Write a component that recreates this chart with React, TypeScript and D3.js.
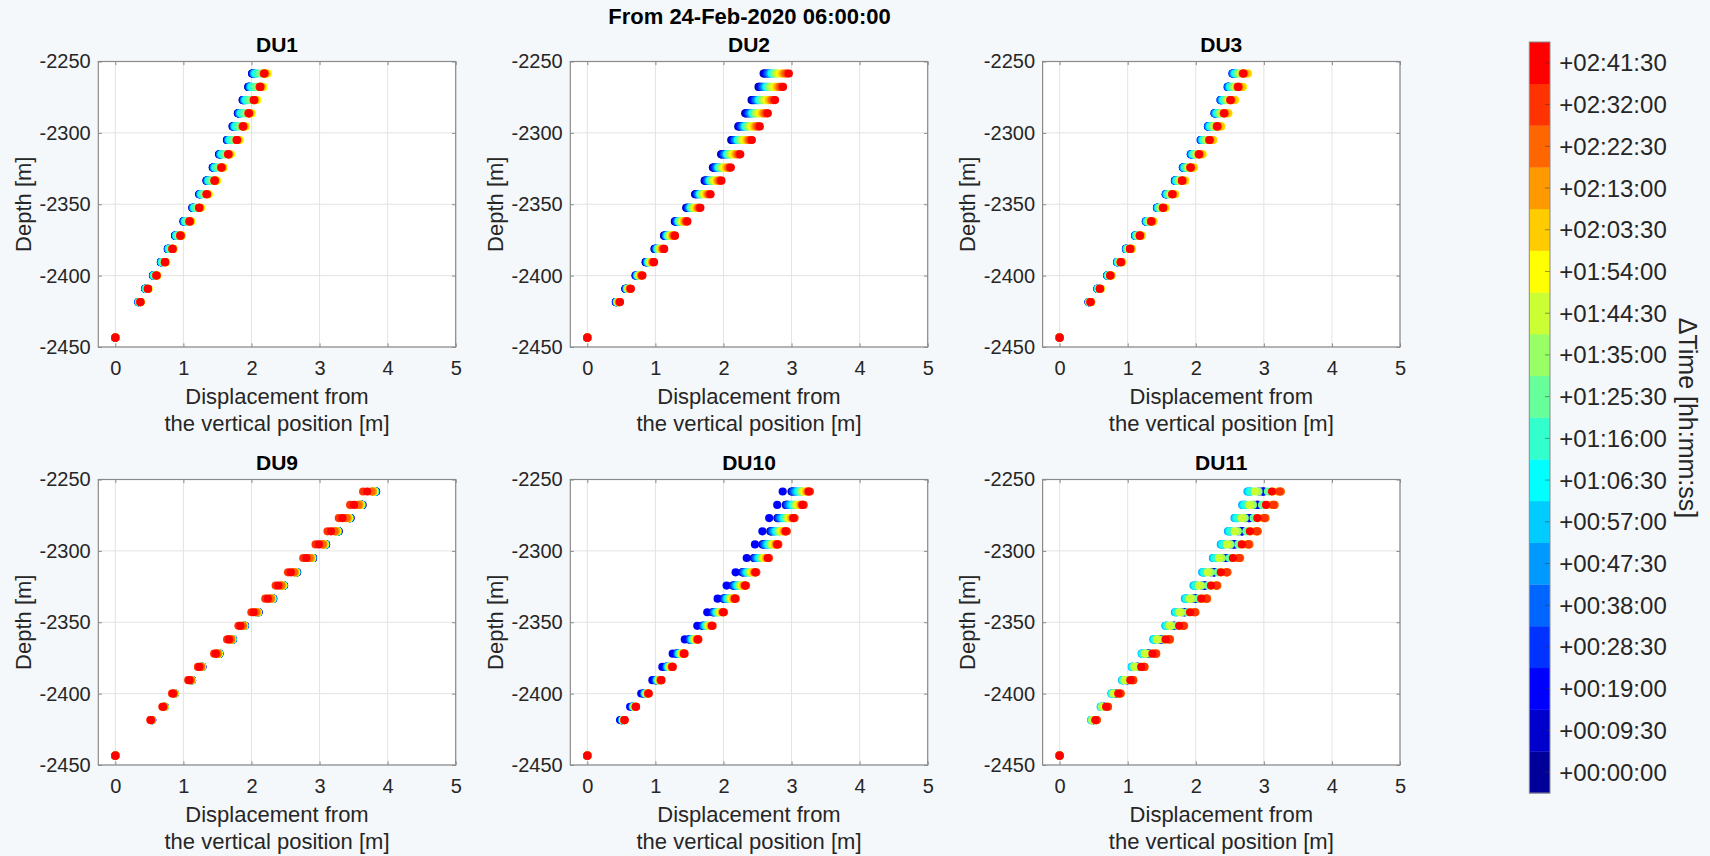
import React, { Component } from "react";
import * as d3 from "d3";

// floor depths, bottom -> top [m]
const floorDepths = [
  -2418.5, -2409.2, -2399.9, -2390.6, -2381.3, -2372.0, -2362.0, -2352.5, -2343.0,
  -2333.5, -2324.3, -2315.0, -2305.0, -2295.5, -2286.3, -2277.0, -2267.8, -2258.4,
];
const anchorDepth = -2443.5;

const timeLabels = [
  "+00:00:00", "+00:09:30", "+00:19:00", "+00:28:30", "+00:38:00", "+00:47:30",
  "+00:57:00", "+01:06:30", "+01:16:00", "+01:25:30", "+01:35:00", "+01:44:30",
  "+01:54:00", "+02:03:30", "+02:13:00", "+02:22:30", "+02:32:00", "+02:41:30",
];

const unitNames = ["DU1", "DU2", "DU3", "DU9", "DU10", "DU11"];

// mean displacement of each floor (bottom -> top) [m]
const profileDU1 = [0.357, 0.464, 0.586, 0.708, 0.815, 0.928, 1.059, 1.196, 1.303, 1.416, 1.513, 1.611, 1.733, 1.821, 1.903, 1.977, 2.064, 2.123];
const profileDU2 = [0.45, 0.6, 0.76, 0.92, 1.06, 1.21, 1.38, 1.56, 1.7, 1.85, 1.98, 2.11, 2.27, 2.38, 2.49, 2.59, 2.7, 2.78];
const profileDU3 = [0.447, 0.583, 0.734, 0.886, 1.021, 1.162, 1.327, 1.498, 1.633, 1.774, 1.897, 2.019, 2.171, 2.282, 2.383, 2.476, 2.586, 2.66];
const profileDU9 = [0.527, 0.708, 0.854, 1.098, 1.245, 1.489, 1.684, 1.855, 2.05, 2.26, 2.416, 2.602, 2.831, 3.017, 3.197, 3.367, 3.538, 3.733];
const profileDU10 = [0.517, 0.675, 0.85, 1.026, 1.183, 1.346, 1.537, 1.734, 1.891, 2.054, 2.196, 2.338, 2.513, 2.643, 2.76, 2.867, 2.994, 3.08];
const profileDU11 = [0.504, 0.657, 0.828, 0.999, 1.152, 1.311, 1.497, 1.689, 1.842, 2.001, 2.139, 2.277, 2.448, 2.574, 2.688, 2.793, 2.916, 3.0];

// displacement of the top floor at each time step [m]
const topDU1 = [2.01, 2.01, 2.02, 2.03, 2.03, 2.04, 2.05, 2.06, 2.08, 2.12, 2.16, 2.2, 2.24, 2.22, 2.2, 2.19, 2.18, 2.19];
const topDU2 = [2.59, 2.6, 2.62, 2.64, 2.66, 2.68, 2.7, 2.71, 2.73, 2.75, 2.77, 2.8, 2.83, 2.86, 2.89, 2.91, 2.94, 2.96];
const topDU3 = [2.55, 2.55, 2.54, 2.54, 2.55, 2.56, 2.57, 2.58, 2.6, 2.62, 2.64, 2.66, 2.77, 2.76, 2.72, 2.7, 2.69, 2.7];
const topDU9 = [3.83, 3.83, 3.82, 3.82, 3.82, 3.82, 3.81, 3.81, 3.81, 3.81, 3.8, 3.8, 3.8, 3.79, 3.78, 3.76, 3.64, 3.7];
const topDU10 = [3.0, 3.01, 2.87, 3.02, 3.04, 3.06, 3.08, 3.1, 3.12, 3.14, 3.15, 3.17, 3.19, 3.21, 3.23, 3.25, 3.27, 3.25];
const topDU11 = [2.99, 2.98, 3.0, 2.93, 2.8, 2.76, 2.77, 2.79, 2.82, 3.06, 2.92, 2.87, 3.13, 3.2, 3.24, 3.25, 3.23, 3.12];

const profiles = [profileDU1, profileDU2, profileDU3, profileDU9, profileDU10, profileDU11];
const topSeries = [topDU1, topDU2, topDU3, topDU9, topDU10, topDU11];

// jet(18)
const jet18 = [
  "rgb(0,0,153)", "rgb(0,0,204)", "rgb(0,0,255)", "rgb(0,51,255)", "rgb(0,102,255)",
  "rgb(0,153,255)", "rgb(0,204,255)", "rgb(0,255,255)", "rgb(51,255,204)", "rgb(102,255,153)",
  "rgb(153,255,102)", "rgb(204,255,51)", "rgb(255,255,0)", "rgb(255,204,0)", "rgb(255,153,0)",
  "rgb(255,102,0)", "rgb(255,51,0)", "rgb(255,0,0)",
];

const FONT = "'Liberation Sans', Arial, Helvetica, sans-serif";

class App extends Component {
  componentDidMount() {
    this.renderChart();
  }

  componentDidUpdate() {
    this.renderChart();
  }

  renderChart = () => {
    const svg = d3.select("#mychart");
    svg.selectAll("*").remove();

    svg.append("rect").attr("width", 1710).attr("height", 856).attr("fill", "#f5f8fb");

    const colLeft = [98.3, 570.3, 1042.6];
    const rowTop = [61.5, 479.5];
    const w = 357.4,
      h = 285.5;

    const x = d3.scaleLinear().domain([-0.25, 5]).range([0, w]);
    const y = d3.scaleLinear().domain([-2450, -2250]).range([h, 0]);
    const xTicks = [0, 1, 2, 3, 4, 5];
    const yTicks = [-2450, -2400, -2350, -2300, -2250];

    unitNames.forEach((name, i) => {
      const g = svg
        .append("g")
        .attr("transform", `translate(${colLeft[i % 3]},${rowTop[Math.floor(i / 3)]})`);

      g.append("rect").attr("width", w).attr("height", h).attr("fill", "white");

      // grid
      g.selectAll(".gx")
        .data(xTicks)
        .join("line")
        .attr("x1", (d) => x(d))
        .attr("x2", (d) => x(d))
        .attr("y1", 0)
        .attr("y2", h)
        .attr("stroke", "#e3e3e3");
      g.selectAll(".gy")
        .data(yTicks)
        .join("line")
        .attr("x1", 0)
        .attr("x2", w)
        .attr("y1", (d) => y(d))
        .attr("y2", (d) => y(d))
        .attr("stroke", "#e3e3e3");

      // points: time by time, later on top
      const prof = profiles[i];
      const top = topSeries[i];
      const pts = [];
      top.forEach((tx, t) => {
        pts.push({ x: 0, z: anchorDepth, t });
        prof.forEach((p, f) => {
          pts.push({ x: (p / prof[prof.length - 1]) * tx, z: floorDepths[f], t });
        });
      });
      g.selectAll(".pt")
        .data(pts)
        .join("circle")
        .attr("cx", (d) => x(d.x))
        .attr("cy", (d) => y(d.z))
        .attr("r", 4.1)
        .attr("fill", (d) => jet18[d.t]);

      // axes
      const ax = g
        .append("g")
        .attr("transform", `translate(0,${h})`)
        .call(
          d3.axisBottom(x).tickValues(xTicks).tickSizeInner(-3.6).tickSizeOuter(0).tickPadding(13.5).tickFormat(d3.format("d"))
        );
      const axTop = g
        .append("g")
        .call(d3.axisTop(x).tickValues(xTicks).tickSizeInner(-3.6).tickSizeOuter(0).tickFormat(() => ""));
      const ay = g
        .append("g")
        .call(
          d3.axisLeft(y).tickValues(yTicks).tickSizeInner(-3.6).tickSizeOuter(0).tickPadding(7.6).tickFormat((d) => String(d))
        );
      const ayR = g
        .append("g")
        .attr("transform", `translate(${w},0)`)
        .call(d3.axisRight(y).tickValues(yTicks).tickSizeInner(-3.6).tickSizeOuter(0).tickFormat(() => ""));
      [ax, axTop, ay, ayR].forEach((a) => {
        a.select(".domain").remove();
        a.selectAll("line").attr("stroke", "#8a8a8a");
        a.selectAll("text").attr("font-family", FONT).attr("font-size", 20).attr("fill", "#262626");
      });

      g.append("rect")
        .attr("width", w)
        .attr("height", h)
        .attr("fill", "none")
        .attr("stroke", "#8a8a8a")
        .attr("stroke-width", 1.2);

      // title
      g.append("text")
        .attr("x", w / 2)
        .attr("y", -9.5)
        .attr("text-anchor", "middle")
        .attr("font-family", FONT)
        .attr("font-weight", "bold")
        .attr("font-size", 21)
        .attr("fill", "#000")
        .text(name);

      // labels
      g.append("text")
        .attr("transform", `translate(-75,${h / 2}) rotate(-90)`)
        .attr("text-anchor", "middle")
        .attr("dominant-baseline", "central")
        .attr("font-family", FONT)
        .attr("font-size", 22)
        .attr("fill", "#262626")
        .text("Depth [m]");
      const xl = g
        .append("text")
        .attr("text-anchor", "middle")
        .attr("font-family", FONT)
        .attr("font-size", 22)
        .attr("fill", "#262626");
      xl.append("tspan").attr("x", w / 2).attr("y", h + 57).text("Displacement from");
      xl.append("tspan").attr("x", w / 2).attr("y", h + 84).text("the vertical position [m]");
    });

    // overall title
    svg
      .append("text")
      .attr("x", 749.5)
      .attr("y", 24)
      .attr("text-anchor", "middle")
      .attr("font-family", FONT)
      .attr("font-weight", "bold")
      .attr("font-size", 22)
      .attr("fill", "#000")
      .text("From 24-Feb-2020 06:00:00");

    // colorbar
    const cbL = 1529.3,
      cbW = 20.7;
    const cy = d3.scaleLinear().domain([-0.5, 17.5]).range([793, 42]);
    const cb = svg.append("g");
    cb.selectAll(".cell")
      .data(jet18)
      .join("rect")
      .attr("x", cbL)
      .attr("y", (d, k) => cy(k + 0.5))
      .attr("width", cbW)
      .attr("height", (d, k) => cy(k - 0.5) - cy(k + 0.5) + 0.3)
      .attr("fill", (d) => d);
    cb.selectAll(".tk")
      .data(timeLabels)
      .join("line")
      .attr("x1", cbL + cbW - 5)
      .attr("x2", cbL + cbW)
      .attr("y1", (d, k) => cy(k))
      .attr("y2", (d, k) => cy(k))
      .attr("stroke", "#333")
      .attr("stroke-opacity", 0.5);
    cb.append("rect")
      .attr("x", cbL)
      .attr("y", 42)
      .attr("width", cbW)
      .attr("height", 751)
      .attr("fill", "none")
      .attr("stroke", "#8a8a8a");
    cb.selectAll(".lbl")
      .data(timeLabels)
      .join("text")
      .attr("x", 1559.3)
      .attr("y", (d, k) => cy(k))
      .attr("dominant-baseline", "central")
      .attr("font-family", FONT)
      .attr("font-size", 24)
      .attr("fill", "#262626")
      .text((d) => d);
    cb.append("text")
      .attr("transform", "translate(1688,418) rotate(90)")
      .attr("text-anchor", "middle")
      .attr("dominant-baseline", "central")
      .attr("font-family", FONT)
      .attr("font-size", 25)
      .attr("fill", "#262626")
      .text("\u0394Time [hh:mm:ss]");
  };

  render() {
    return (
      <div style={{ position: "absolute", left: 0, top: 0 }}>
        <svg id="mychart" width="1710" height="856" style={{ display: "block" }}></svg>
      </div>
    );
  }
}

export default App;
